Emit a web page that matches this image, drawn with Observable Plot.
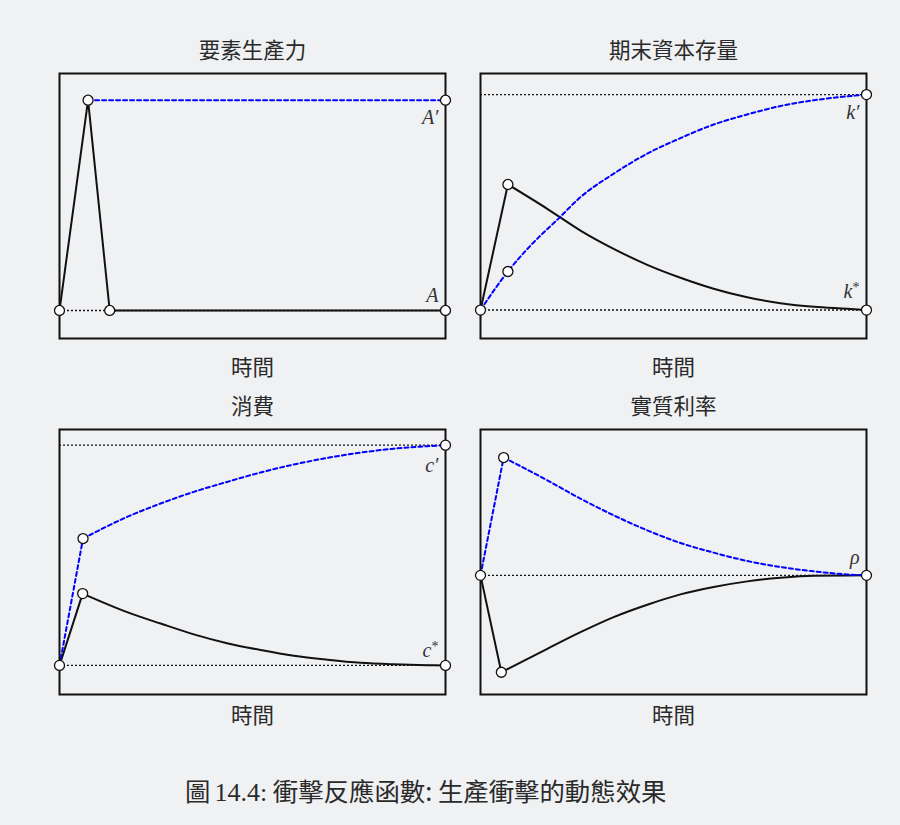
<!DOCTYPE html>
<html>
<head>
<meta charset="utf-8">
<script src="https://cdn.jsdelivr.net/npm/d3@7"></script>
<script src="https://cdn.jsdelivr.net/npm/@observablehq/plot@0.6"></script>
<style>
  body { margin: 0; background: #f0f1f3; }
  #page { position: relative; width: 900px; height: 825px; background: #f0f1f3; overflow: hidden; }
  .panel { position: absolute; }
  #caption {
    position: absolute; left: 185px; top: 772px; white-space: nowrap;
    font-family: "Noto Sans CJK TC", sans-serif; font-size: 25.4px; line-height: 36px; color: #2a2a2a;
  }
  #caption .num { font-family: "Liberation Serif", serif; font-size: 26px; margin-left: 4px; }
</style>
</head>
<body>
<div id="page"></div>
<script>
// Shared text
const xLabel = "時間";
const captionFig = "圖";
const captionNum = "14.4:";
const captionText = "衝擊反應函數: 生產衝擊的動態效果";

// Time runs 0..100 across each panel; values are deviations from the old steady state
// (1 = new level for A, k, c; 1 = peak of the blue path for the interest rate).

// 要素生產力
const prodTitle = "要素生產力";
const prodRefs = [0];
const prodBlack = [{t: 0, v: 0}, {t: 7.4, v: 1}, {t: 13, v: 0}, {t: 100, v: 0}];
const prodBlue = [{t: 7.4, v: 1}, {t: 100, v: 1}];
const prodDots = [{t: 0, v: 0}, {t: 7.4, v: 1}, {t: 13, v: 0}, {t: 100, v: 0}, {t: 100, v: 1}];
const prodLabels = [{t: 100, v: 1, s: "A′", dy: 17}, {t: 100, v: 0, s: "A", dy: -15}];

// 期末資本存量
const capTitle = "期末資本存量";
const capRefs = [0, 1];
const capBlackJump = [{t: 0, v: 0}, {t: 7.1, v: 0.583}];
const capBlackCurve = [
  {t: 7.1, v: 0.583}, {t: 17.3, v: 0.47}, {t: 25.9, v: 0.369}, {t: 34.5, v: 0.284},
  {t: 43.2, v: 0.21}, {t: 51.8, v: 0.15}, {t: 60.4, v: 0.099}, {t: 69.1, v: 0.059},
  {t: 77.7, v: 0.032}, {t: 86.4, v: 0.015}, {t: 95, v: 0.006}, {t: 100, v: 0}
];
const capBlueCurve = [
  {t: 0, v: 0}, {t: 7.1, v: 0.179}, {t: 13, v: 0.3}, {t: 20, v: 0.421}, {t: 25.9, v: 0.524},
  {t: 34.5, v: 0.633}, {t: 43.2, v: 0.726}, {t: 51.8, v: 0.798}, {t: 60.4, v: 0.861},
  {t: 69.1, v: 0.908}, {t: 77.7, v: 0.947}, {t: 86.4, v: 0.974}, {t: 95, v: 0.992}, {t: 100, v: 1}
];
const capDots = [{t: 0, v: 0}, {t: 7.1, v: 0.583}, {t: 7.1, v: 0.179}, {t: 100, v: 1}, {t: 100, v: 0}];
const capLabels = [{t: 100, v: 1, s: "k′", dy: 18}, {t: 100, v: 0, s: "k*", dy: -18}];

// 消費
const conTitle = "消費";
const conRefs = [0, 1];
const conBlackJump = [{t: 0, v: 0}, {t: 6, v: 0.326}];
const conBlackCurve = [
  {t: 6, v: 0.326}, {t: 17.5, v: 0.242}, {t: 26.2, v: 0.19}, {t: 34.8, v: 0.141},
  {t: 43.4, v: 0.101}, {t: 52.1, v: 0.07}, {t: 60.7, v: 0.044}, {t: 69.4, v: 0.026},
  {t: 78, v: 0.012}, {t: 86.6, v: 0.005}, {t: 95.3, v: 0.001}, {t: 100, v: 0}
];
const conBlueJump = [{t: 0, v: 0}, {t: 6.1, v: 0.576}];
const conBlueCurve = [
  {t: 6.1, v: 0.576}, {t: 17.5, v: 0.674}, {t: 26.2, v: 0.735}, {t: 34.8, v: 0.788},
  {t: 43.4, v: 0.833}, {t: 52.1, v: 0.876}, {t: 60.7, v: 0.912}, {t: 69.4, v: 0.942},
  {t: 78, v: 0.966}, {t: 86.6, v: 0.984}, {t: 95.3, v: 0.995}, {t: 100, v: 1}
];
const conDots = [{t: 0, v: 0}, {t: 6, v: 0.326}, {t: 6.1, v: 0.576}, {t: 100, v: 1}, {t: 100, v: 0}];
const conLabels = [{t: 100, v: 1, s: "c′", dy: 20}, {t: 100, v: 0, s: "c*", dy: -15}];

// 實質利率
const rateTitle = "實質利率";
const rateRefs = [0];
const rateBlackJump = [{t: 0, v: 0}, {t: 5.4, v: -0.822}];
const rateBlackCurve = [
  {t: 5.4, v: -0.822}, {t: 17.3, v: -0.623}, {t: 25.9, v: -0.482}, {t: 34.5, v: -0.354},
  {t: 43.2, v: -0.249}, {t: 51.8, v: -0.161}, {t: 60.4, v: -0.099}, {t: 69.1, v: -0.051},
  {t: 77.7, v: -0.02}, {t: 86.4, v: -0.003}, {t: 100, v: 0}
];
const rateBlueJump = [{t: 0, v: 0}, {t: 6, v: 1}];
const rateBlueCurve = [
  {t: 6, v: 1}, {t: 17.3, v: 0.807}, {t: 25.9, v: 0.651}, {t: 34.5, v: 0.51},
  {t: 43.2, v: 0.382}, {t: 51.8, v: 0.275}, {t: 60.4, v: 0.193}, {t: 69.1, v: 0.122},
  {t: 77.7, v: 0.071}, {t: 86.4, v: 0.034}, {t: 95, v: 0.008}, {t: 100, v: 0}
];
const rateDots = [{t: 0, v: 0}, {t: 6, v: 1}, {t: 5.4, v: -0.822}, {t: 100, v: 0}];
const rateLabels = [{t: 100, v: 0, s: "ρ", dy: -18}];

const INK = "#111";
const BLUE = "#0000ff";
const CJK = "'Noto Sans CJK TC', 'Noto Sans CJK SC', sans-serif";
const MATH = "'Liberation Serif', 'DejaVu Serif', serif";

function panel({title, yDomain, refs, black = [], blackCurve = [], blue = [], blueCurve = [], dots, labels, titleDy = -22, xDy = 30}) {
  const svg = Plot.plot({
    width: 426,
    height: 360,
    marginLeft: 20,
    marginRight: 20,
    marginTop: 50,
    marginBottom: 45,
    x: {domain: [0, 100], axis: null},
    y: {domain: yDomain, axis: null},
    style: {background: "transparent", overflow: "visible"},
    marks: [
      Plot.ruleY(refs, {y: d => d, x1: 0, x2: 100, stroke: INK, strokeWidth: 1.4, strokeDasharray: "2,2"}),
      Plot.line(black, {x: "t", y: "v", stroke: INK, strokeWidth: 2}),
      Plot.line(blackCurve, {x: "t", y: "v", stroke: INK, strokeWidth: 2, curve: "monotone-x"}),
      Plot.line(blue, {x: "t", y: "v", stroke: BLUE, strokeWidth: 2, strokeDasharray: "4,3"}),
      Plot.line(blueCurve, {x: "t", y: "v", stroke: BLUE, strokeWidth: 2, strokeDasharray: "4,3", curve: "monotone-x"}),
      Plot.frame({stroke: INK, strokeWidth: 2}),
      Plot.dot(dots, {x: "t", y: "v", r: 5, fill: "white", stroke: INK, strokeWidth: 1.3}),
      ...labels.map(d => Plot.text([d], {
        x: "t", y: "v", text: "s", dy: d.dy, dx: -7, textAnchor: "end",
        fontFamily: MATH, fontStyle: "italic", fontSize: 20, fill: "#333"
      })),
      Plot.text([title], {text: d => d, frameAnchor: "top", lineAnchor: "middle", dy: titleDy, fontFamily: CJK, fontSize: 21.5, fill: "#2a2a2a"}),
      Plot.text([xLabel], {text: d => d, frameAnchor: "bottom", lineAnchor: "middle", dy: xDy, fontFamily: CJK, fontSize: 21.5, fill: "#2a2a2a"})
    ]
  });
  // raise the asterisk of k*, c* as a superscript
  svg.querySelectorAll("text").forEach(el => {
    const s = el.textContent;
    if (s.length > 1 && s.endsWith("*")) {
      el.textContent = s.slice(0, -1);
      const ts = document.createElementNS("http://www.w3.org/2000/svg", "tspan");
      ts.setAttribute("dy", "-0.45em");
      ts.setAttribute("font-size", "0.7em");
      ts.setAttribute("font-style", "normal");
      ts.textContent = "*";
      el.appendChild(ts);
    }
  });
  return svg;
}

const panels = [
  {left: 39, top: 23, svg: panel({title: prodTitle, yDomain: [-0.1333, 1.127], refs: prodRefs, black: prodBlack, blue: prodBlue, dots: prodDots, labels: prodLabels})},
  {left: 460, top: 23, svg: panel({title: capTitle, yDomain: [-0.132, 1.098], refs: capRefs, black: capBlackJump, blackCurve: capBlackCurve, blueCurve: capBlueCurve, dots: capDots, labels: capLabels})},
  {left: 39, top: 379, svg: panel({title: conTitle, yDomain: [-0.132, 1.071], refs: conRefs, black: conBlackJump, blackCurve: conBlackCurve, blue: conBlueJump, blueCurve: conBlueCurve, dots: conDots, labels: conLabels, xDy: 22})},
  {left: 460, top: 379, svg: panel({title: rateTitle, yDomain: [-1.011, 1.238], refs: rateRefs, black: rateBlackJump, blackCurve: rateBlackCurve, blue: rateBlueJump, blueCurve: rateBlueCurve, dots: rateDots, labels: rateLabels, xDy: 22})}
];

const page = document.getElementById("page");
for (const p of panels) {
  p.svg.classList.add("panel");
  p.svg.style.left = p.left + "px";
  p.svg.style.top = p.top + "px";
  page.appendChild(p.svg);
}

const cap = document.createElement("div");
cap.id = "caption";
cap.innerHTML = `${captionFig}<span class="num">${captionNum}</span> ${captionText}`;
page.appendChild(cap);
</script>
</body>
</html>
